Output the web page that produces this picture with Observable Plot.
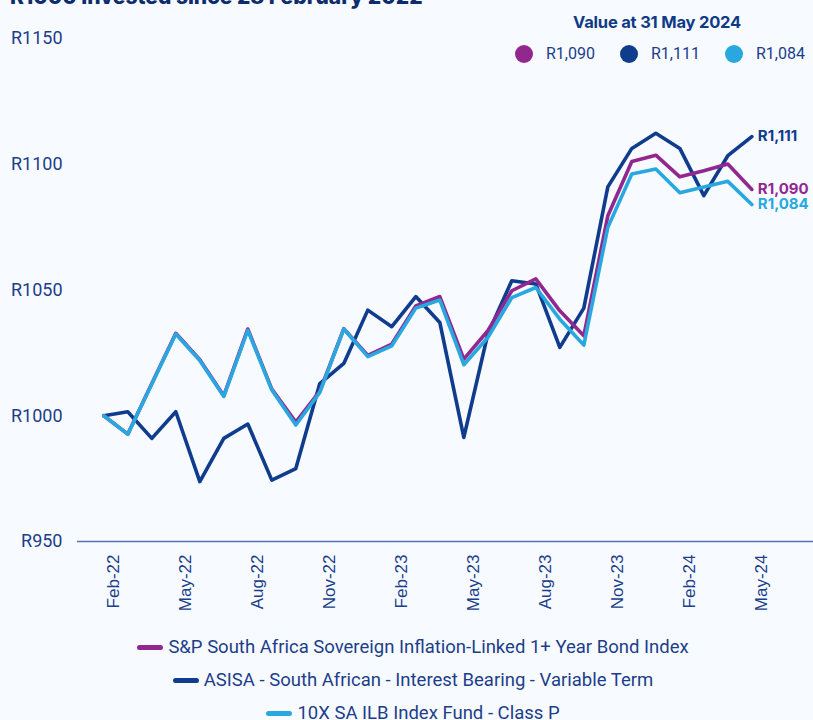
<!DOCTYPE html>
<html>
<head>
<meta charset="utf-8">
<script src="https://cdn.jsdelivr.net/npm/d3@7"></script>
<script src="https://cdn.jsdelivr.net/npm/@observablehq/plot@0.6"></script>
<style>
  html, body { margin: 0; padding: 0; background: #f7faff; }
  body { width: 813px; height: 720px; overflow: hidden; position: relative; font-family: Roboto, sans-serif; }
  #title { position: absolute; left: 10px; top: -14px; font: 800 21px/1 Inter, sans-serif; color: #0d2c6c; white-space: nowrap; }
  #valhead { position: absolute; left: 557px; width: 200px; top: 12px; text-align: center; font: 700 16.5px/20px Inter, sans-serif; color: #0f3a86; letter-spacing: -0.2px; }
  .vitem { position: absolute; top: 45px; height: 18px; display: flex; align-items: center; }
  .vitem .dot { width: 18px; height: 18px; border-radius: 50%; margin-right: 13px; }
  .vitem span { font: 400 16px/18px Roboto, sans-serif; color: #1c3e8a; }
  #chart { position: absolute; left: 0; top: 0; }
  #legend { position: absolute; left: 0; top: 631px; width: 826px; text-align: center; }
  .lrow { height: 33px; display: flex; justify-content: center; align-items: center; }
  .lrow .sw { width: 26px; height: 5px; border-radius: 3px; margin-right: 5px; }
  .lrow span { font: 400 18.5px/33px Roboto, sans-serif; color: #1c3e8a; }
</style>
</head>
<body>
<div id="title">R1000 invested since 28 February 2022</div>
<div id="chart"></div>
<div id="valhead"></div>
<div id="vitems"></div>
<div id="legend"></div>
<script>
// ---- data ----
const months = ["Feb-22","Mar-22","Apr-22","May-22","Jun-22","Jul-22","Aug-22","Sep-22","Oct-22","Nov-22","Dec-22",
  "Jan-23","Feb-23","Mar-23","Apr-23","May-23","Jun-23","Jul-23","Aug-23","Sep-23","Oct-23","Nov-23","Dec-23",
  "Jan-24","Feb-24","Mar-24","Apr-24","May-24"];
const tickLabels = ["Feb-22","May-22","Aug-22","Nov-22","Feb-23","May-23","Aug-23","Nov-23","Feb-24","May-24"];
const seriesNames = [
  "S&P South Africa Sovereign Inflation-Linked 1+ Year Bond Index",
  "ASISA - South African - Interest Bearing - Variable Term",
  "10X SA ILB Index Fund - Class P"
];
const seriesColors = ["#92278f", "#0f3c8c", "#29a8e0"];
const snpIndex = [1000, 992.7, 1012.8, 1032.8, 1022.3, 1008.0, 1034.5, 1010.6, 997.5, 1009.8, 1034.6,
  1024.0, 1028.5, 1043.7, 1047.4, 1022.5, 1033.8, 1049.7, 1054.4, 1041.7, 1031.8, 1079.5, 1101.1,
  1103.6, 1095.0, 1097.4, 1100.1, 1090];
const asisaSector = [1000, 1001.6, 991.0, 1001.6, 973.8, 991.0, 996.7, 974.4, 979.0, 1012.8, 1020.8,
  1042.0, 1035.4, 1047.4, 1037.1, 991.4, 1032.5, 1053.7, 1052.4, 1027.2, 1042.8, 1091.0, 1106.3,
  1112.3, 1106.3, 1087.5, 1103.4, 1111];
const tenxFund = [1000, 992.7, 1012.6, 1032.5, 1022.0, 1007.7, 1034.0, 1010.2, 996.3, 1009.3, 1034.5,
  1023.5, 1027.8, 1042.8, 1046.0, 1020.3, 1031.1, 1047.0, 1051.0, 1038.4, 1028.1, 1074.9, 1096.1,
  1098.1, 1088.7, 1091.0, 1093.2, 1084];
const endLabels = ["R1,090", "R1,111", "R1,084"];
const valueHeading = "Value at 31 May 2024";
const yTicks = [950, 1000, 1050, 1100, 1150];

// ---- build table ----
const allSeries = [snpIndex, asisaSector, tenxFund];
const drawOrder = [1, 0, 2];
const rows = [];
for (const s of drawOrder) {
  allSeries[s].forEach((v, i) => rows.push({series: seriesNames[s], i, month: months[i], v}));
}
const last = months.length - 1;
const ends = allSeries.map((arr, s) => ({series: seriesNames[s], i: last, v: arr[last], label: endLabels[s]}));
const tickIdx = tickLabels.map(l => months.indexOf(l));
const textColor = "#1c3e8a";

const chart = Plot.plot({
  width: 813,
  height: 625,
  marginLeft: 77,
  marginRight: 0,
  marginTop: 38,
  marginBottom: 84,
  style: {background: "transparent", fontFamily: "Roboto, sans-serif", color: textColor, overflow: "visible"},
  x: {type: "linear", domain: [-1.096, 29.57]},
  y: {domain: [950, 1150]},
  color: {domain: seriesNames, range: seriesColors},
  marks: [
    Plot.ruleY([950], {stroke: "#5573b0", strokeWidth: 1.5}),
    Plot.axisY({ticks: yTicks, tickFormat: d => "R" + d, tickSize: 0, tickPadding: 15, fontSize: 18, fill: textColor, label: null}),
    Plot.axisX({ticks: tickIdx, tickFormat: i => months[i], tickRotate: -90, tickSize: 0, tickPadding: 13, dx: 10,
      fontSize: 17, fontFamily: "Liberation Sans, Arial, sans-serif", fill: textColor, label: null}),
    Plot.line(rows, {x: "i", y: "v", z: "series", stroke: "series", strokeWidth: 3.6, strokeLinejoin: "round"}),
    Plot.text(ends, {x: "i", y: "v", text: "label", fill: "series", dx: 6, textAnchor: "start",
      fontSize: 15, fontWeight: 700, fontFamily: "Inter, sans-serif"})
  ]
});
document.getElementById("chart").appendChild(chart);

// top value legend
document.getElementById("valhead").textContent = valueHeading;
const vlefts = [515, 620, 725];
const vitems = document.getElementById("vitems");
seriesNames.forEach((n, s) => {
  const d = document.createElement("div");
  d.className = "vitem";
  d.style.left = vlefts[s] + "px";
  d.innerHTML = `<div class="dot" style="background:${seriesColors[s]}"></div><span>${endLabels[s]}</span>`;
  vitems.appendChild(d);
});

// bottom legend
const leg = document.getElementById("legend");
seriesNames.forEach((n, s) => {
  const r = document.createElement("div");
  r.className = "lrow";
  r.innerHTML = `<div class="sw" style="background:${seriesColors[s]}"></div><span></span>`;
  r.querySelector("span").textContent = n;
  leg.appendChild(r);
});
</script>
</body>
</html>
